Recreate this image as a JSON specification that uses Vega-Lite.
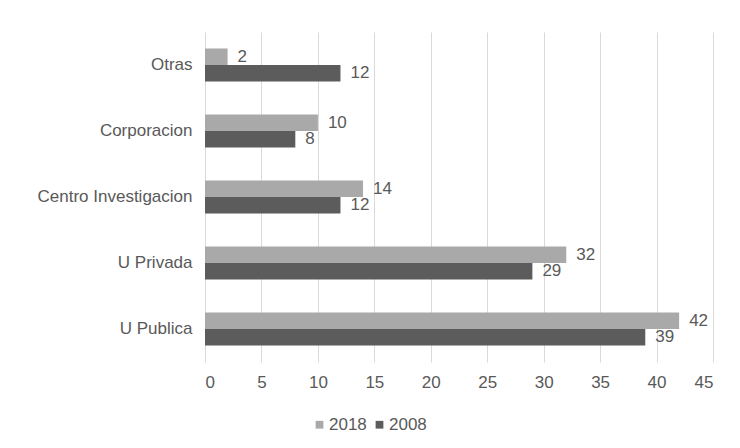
{
  "$schema": "https://vega.github.io/schema/vega-lite/v6.json",
  "autosize": {"type": "none"},
  "padding": {"left": 205, "top": 32, "right": 27, "bottom": 86},
  "width": 508,
  "height": 330,
  "background": "white",
  "config": {
    "font": "Liberation Sans",
    "view": {"stroke": null},
    "axis": {"labelFont": "Liberation Sans", "labelColor": "#595959", "labelFontSize": 17}
  },
  "data": {
    "values": [
      {"cat": "Otras", "year": "2018", "value": 2},
      {"cat": "Otras", "year": "2008", "value": 12},
      {"cat": "Corporacion", "year": "2018", "value": 10},
      {"cat": "Corporacion", "year": "2008", "value": 8},
      {"cat": "Centro Investigacion", "year": "2018", "value": 14},
      {"cat": "Centro Investigacion", "year": "2008", "value": 12},
      {"cat": "U Privada", "year": "2018", "value": 32},
      {"cat": "U Privada", "year": "2008", "value": 29},
      {"cat": "U Publica", "year": "2018", "value": 42},
      {"cat": "U Publica", "year": "2008", "value": 39}
    ]
  },
  "encoding": {
    "y": {
      "field": "cat", "type": "nominal",
      "sort": ["Otras", "Corporacion", "Centro Investigacion", "U Privada", "U Publica"],
      "scale": {"paddingInner": 0.5, "paddingOuter": 0.25},
      "axis": {"title": null, "ticks": false, "domain": false, "labelPadding": 13}
    },
    "yOffset": {"field": "year", "type": "nominal", "sort": ["2018", "2008"]},
    "x": {
      "field": "value", "type": "quantitative",
      "scale": {"domain": [0, 45], "nice": false},
      "axis": {"title": null, "values": [0,5,10,15,20,25,30,35,40,45], "ticks": false, "domain": false, "gridColor": "#d9d9d9", "labelPadding": 12}
    }
  },
  "layer": [
    {
      "mark": {"type": "bar"},
      "encoding": {
        "color": {
          "field": "year", "type": "nominal",
          "scale": {"domain": ["2018", "2008"], "range": ["#a9a9a9", "#5c5c5c"]},
          "legend": {
            "title": null, "orient": "none", "direction": "horizontal",
            "legendX": 106, "legendY": 384,
            "symbolType": "square", "symbolSize": 60, "symbolStrokeWidth": 0,
            "labelFontSize": 17, "labelColor": "#595959", "labelFont": "Liberation Sans",
            "columnPadding": 4, "labelOffset": 1
          }
        }
      }
    },
    {
      "mark": {"type": "text", "align": "left", "baseline": "middle", "dx": 10, "fontSize": 17, "color": "#595959"},
      "encoding": {"text": {"field": "value", "type": "quantitative"}}
    }
  ]
}
